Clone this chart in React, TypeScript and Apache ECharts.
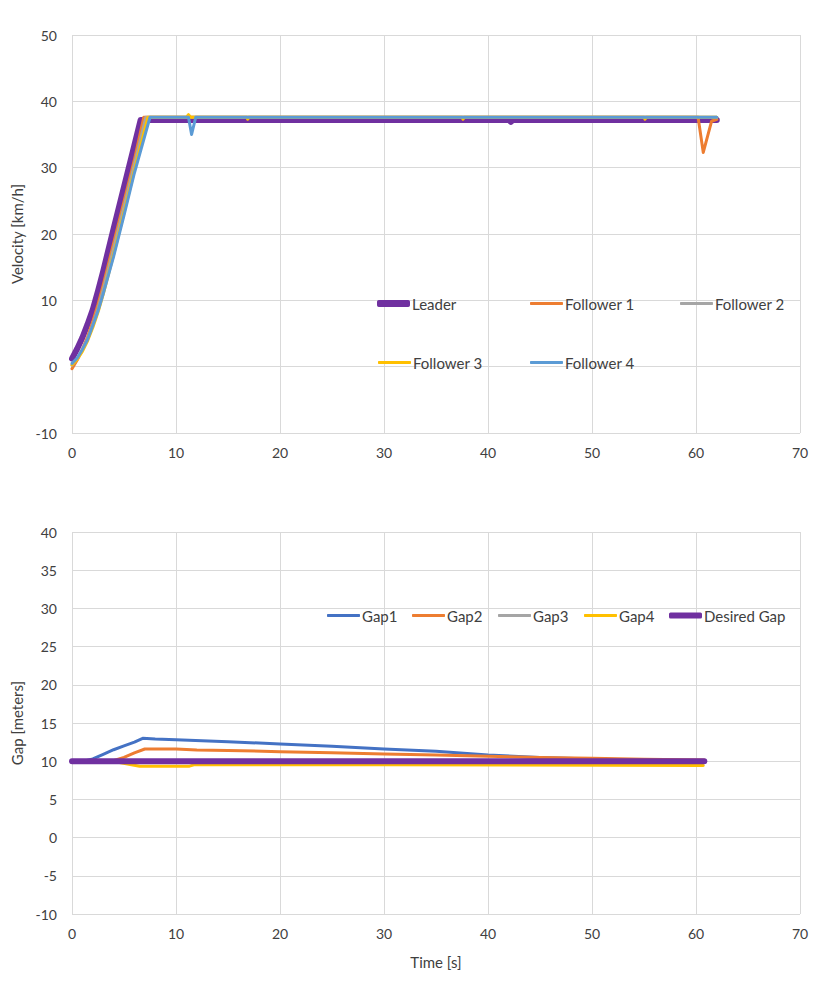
import React, { useEffect, useRef } from "react";
import * as echarts from "echarts";

// ---- Velocity chart data (time [s], velocity [km/h]) ----
const leaderT = [0, 0.5, 1, 1.5, 2, 2.5, 3, 4, 5, 6, 6.6, 7, 20, 42, 42.2, 42.4, 62];
const leaderV = [1.2, 2.7, 4.4, 6.4, 8.6, 11.4, 14.4, 20.8, 27.1, 33.4, 37.2, 37.2, 37.2, 37.2, 36.9, 37.2, 37.2];

const f1T = [0, 0.5, 1, 1.5, 2, 2.5, 3, 4, 5, 6, 6.9, 10, 30, 60.2, 60.7, 61.5, 62];
const f1V = [-0.3, 1.0, 2.6, 4.5, 6.8, 9.4, 12.3, 18.6, 24.9, 31.2, 37.6, 37.6, 37.6, 37.6, 32.3, 37.0, 37.3];

const f2T = [0, 0.5, 1, 1.5, 2, 2.5, 3, 4, 5, 6, 7.1, 30, 62];
const f2V = [0.2, 1.2, 2.5, 4.2, 6.3, 8.7, 11.6, 17.8, 24.1, 30.5, 37.6, 37.6, 37.6];

const f3T = [0, 0.5, 1, 1.5, 2, 2.5, 3, 4, 5, 6, 7.3, 11, 11.2, 11.4, 16.8, 16.9, 17, 37.5, 37.6, 37.7, 55, 55.1, 55.2, 62];
const f3V = [0.3, 1.1, 2.3, 3.9, 5.9, 8.2, 10.9, 16.9, 23.2, 29.6, 37.6, 37.6, 38.0, 37.6, 37.6, 37.3, 37.6, 37.6, 37.3, 37.6, 37.6, 37.3, 37.6, 37.6];

const f4T = [0, 0.5, 1, 1.5, 2, 2.5, 3, 4, 5, 6, 7.5, 11.2, 11.5, 11.9, 30, 62];
const f4V = [0.5, 1.3, 2.6, 4.1, 6.2, 8.4, 11.0, 16.6, 22.8, 29.2, 37.6, 37.6, 35.0, 37.6, 37.6, 37.6];

// ---- Gap chart data (time [s], gap [m]) ----
const gap1T = [0, 1.3, 2, 3, 4, 5, 6, 6.8, 8, 10, 15, 20, 25, 30, 35, 40, 45, 50, 55, 60.8];
const gap1V = [10, 10.05, 10.3, 10.9, 11.5, 12.0, 12.5, 13.0, 12.9, 12.8, 12.55, 12.25, 11.95, 11.6, 11.3, 10.8, 10.5, 10.3, 10.15, 10.05];

const gap2T = [0, 3.8, 5, 6, 7, 10, 12, 15, 20, 25, 30, 35, 40, 45, 50, 55, 60.8];
const gap2V = [10, 10, 10.5, 11.1, 11.6, 11.6, 11.45, 11.4, 11.25, 11.1, 10.95, 10.8, 10.65, 10.5, 10.4, 10.25, 10.15];

const gap3T = [0, 7, 20, 40, 60.8];
const gap3V = [10, 10.1, 10.05, 10, 9.95];

const gap4T = [0, 4.3, 6.5, 11.3, 11.8, 30, 60.7];
const gap4V = [10, 9.9, 9.35, 9.35, 9.55, 9.55, 9.45];

const desiredT = [0, 60.8];
const desiredV = [10, 10];

const xTicks = { min: 0, max: 70, interval: 10 };
const velTicks = { min: -10, max: 50, interval: 10 };
const gapTicks = { min: -10, max: 40, interval: 5 };

const zip = (t: number[], v: number[]) => t.map((x, i) => [x, v[i]]);

const FONT = "Lato, 'Open Sans', sans-serif";
const TXT = "#404040";
const GRID = "#d9d9d9";

const C = {
  purple: "#7030A0",
  orange: "#ED7D31",
  gray: "#A5A5A5",
  yellow: "#FFC000",
  lblue: "#5B9BD5",
  blue: "#4472C4",
};

export default function App() {
  const ref = useRef<HTMLDivElement>(null);
  useEffect(() => {
    if (!ref.current) return;
    const chart = echarts.init(ref.current, undefined, { renderer: "svg" });

    const xAxisBase = (gridIndex: number, name?: string) => ({
      type: "value" as const,
      gridIndex,
      ...xTicks,
      name,
      nameLocation: "middle" as const,
      nameGap: 40,
      nameTextStyle: { color: TXT, fontFamily: FONT, fontSize: 15 },
      axisLine: { show: false },
      axisTick: { show: false },
      axisLabel: { color: TXT, fontFamily: FONT, fontSize: 14, margin: 12 },
      splitLine: { show: true, lineStyle: { color: GRID, width: 1 } },
    });
    const yAxisBase = (gridIndex: number, ticks: any, name: string) => ({
      type: "value" as const,
      gridIndex,
      ...ticks,
      name,
      nameLocation: "middle" as const,
      nameGap: 42,
      nameTextStyle: { color: TXT, fontFamily: FONT, fontSize: 15 },
      axisLine: { show: false },
      axisTick: { show: false },
      axisLabel: { color: TXT, fontFamily: FONT, fontSize: 14, margin: 15 },
      splitLine: { show: true, lineStyle: { color: GRID, width: 1 } },
    });

    const line = (name: string, data: number[][], color: string, width: number, axis: number) => ({
      type: "line" as const,
      name,
      data,
      xAxisIndex: axis,
      yAxisIndex: axis,
      showSymbol: false,
      symbol: "none",
      lineStyle: { color, width, cap: "round" as const, join: "round" as const },
      itemStyle: { color },
      emphasis: { disabled: true },
    });

    const leg = (name: string, left: number, top: number, h: number) => ({
      data: [name],
      left,
      top,
      icon: "roundRect",
      itemWidth: 33,
      itemHeight: h,
      selectedMode: false,
      padding: 0,
      textStyle: { color: TXT, fontFamily: FONT, fontSize: 15, padding: [0, 0, 0, -3] },
    });

    chart.setOption({
      animation: false,
      backgroundColor: "#ffffff",
      grid: [
        { left: 72, top: 35, width: 728, height: 398 },
        { left: 72, top: 532, width: 728, height: 382 },
      ],
      xAxis: [xAxisBase(0), xAxisBase(1, "Time [s]")],
      yAxis: [yAxisBase(0, velTicks, "Velocity [km/h]"), yAxisBase(1, gapTicks, "Gap [meters]")],
      legend: [
        leg("Leader", 377, 296, 7),
        leg("Follower 1", 530, 296, 3),
        leg("Follower 2", 680, 296, 3),
        leg("Follower 3", 378, 355, 3),
        leg("Follower 4", 530, 355, 3),
        leg("Gap1", 327, 608, 3),
        leg("Gap2", 412, 608, 3),
        leg("Gap3", 498, 608, 3),
        leg("Gap4", 584, 608, 3),
        leg("Desired Gap", 669, 608, 6),
      ],
      series: [
        line("Leader", zip(leaderT, leaderV), C.purple, 6, 0),
        line("Follower 1", zip(f1T, f1V), C.orange, 3, 0),
        line("Follower 2", zip(f2T, f2V), C.gray, 3, 0),
        line("Follower 3", zip(f3T, f3V), C.yellow, 3, 0),
        line("Follower 4", zip(f4T, f4V), C.lblue, 3, 0),
        line("Gap1", zip(gap1T, gap1V), C.blue, 3, 1),
        line("Gap2", zip(gap2T, gap2V), C.orange, 3, 1),
        line("Gap3", zip(gap3T, gap3V), C.gray, 3, 1),
        line("Gap4", zip(gap4T, gap4V), C.yellow, 3, 1),
        line("Desired Gap", zip(desiredT, desiredV), C.purple, 6, 1),
      ],
    });
    return () => chart.dispose();
  }, []);

  return (
    <div
      ref={ref}
      style={{ position: "absolute", left: 0, top: 0, width: 830, height: 997 }}
    />
  );
}
